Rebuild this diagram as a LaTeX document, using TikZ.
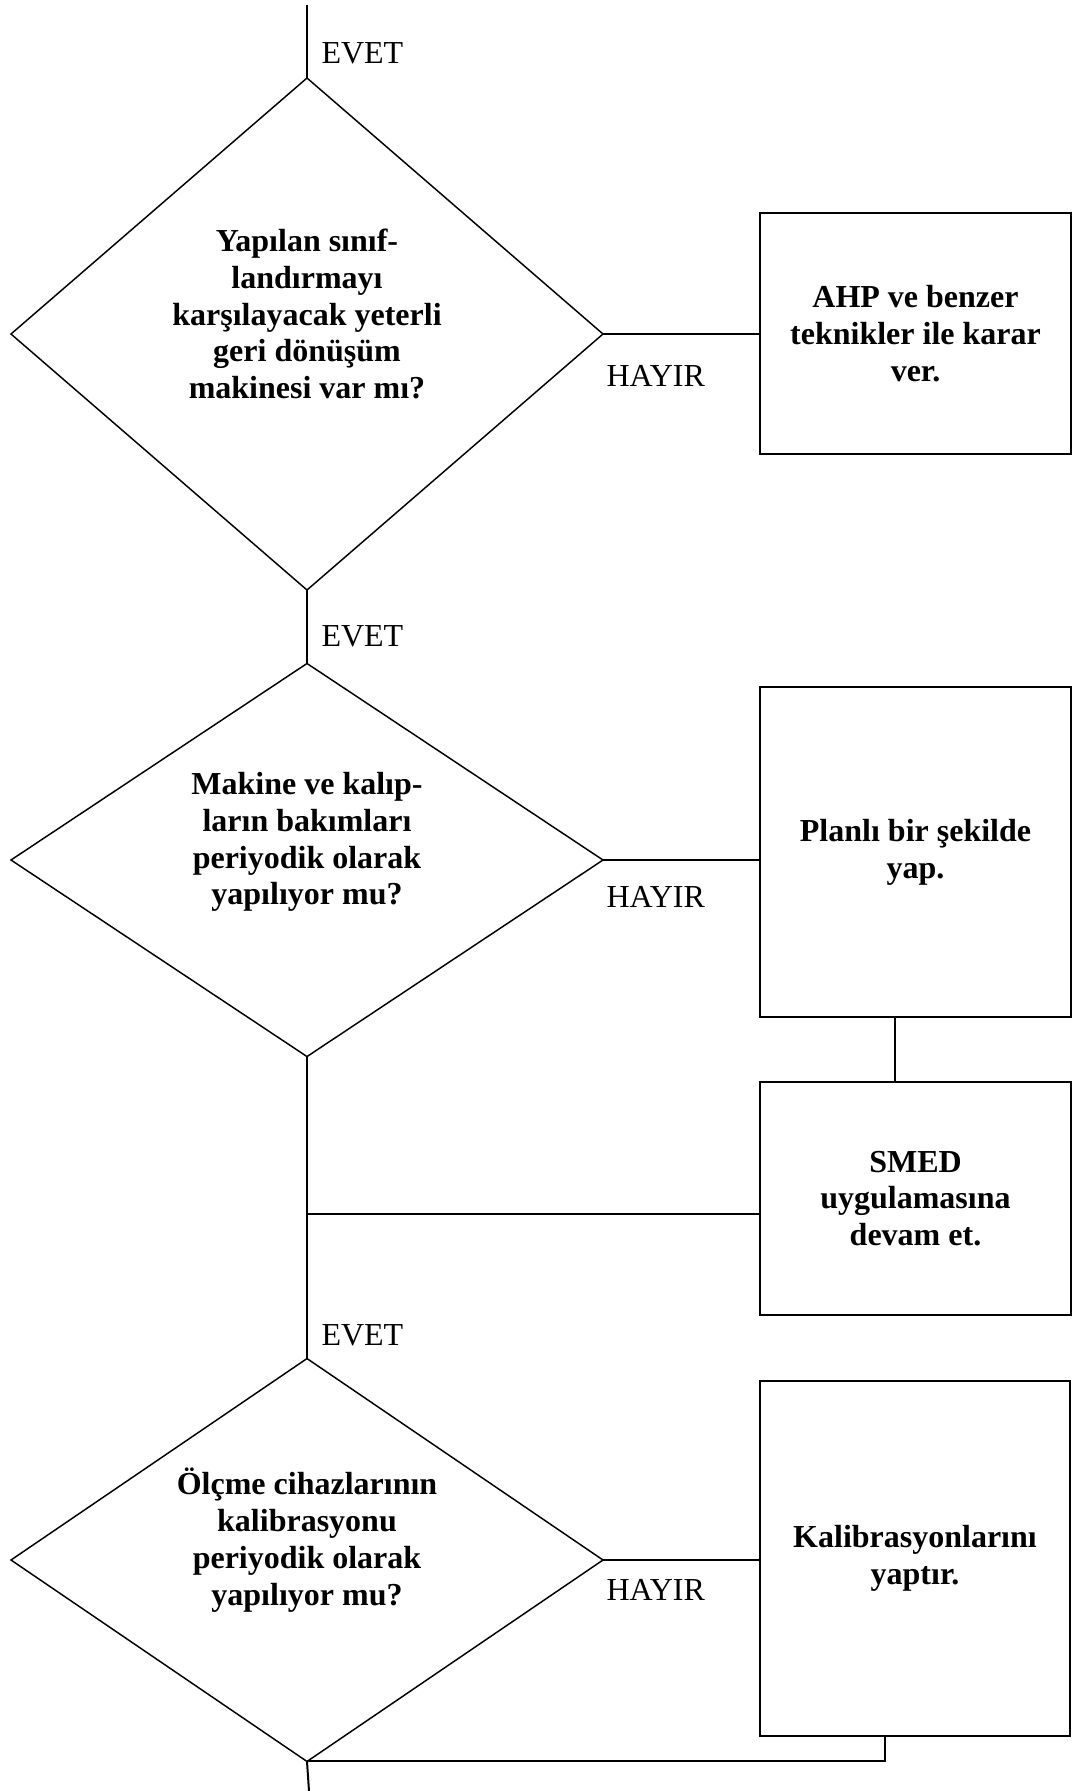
\documentclass[tikz,border=0pt]{standalone}
\usepackage{fontspec}
\setmainfont{Liberation Serif}
\usetikzlibrary{positioning}
\usetikzlibrary{calc}
\usetikzlibrary{shapes.geometric}

\begin{document}
\begin{tikzpicture}[x=0.375pt, y=-0.375pt,
    question/.style={draw, diamond, line width=0.55pt, inner sep=0pt, outer sep=0pt, minimum width=222pt},
    qtext/.style={font=\fontsize{12}{13.8}\selectfont\bfseries, align=center, inner sep=0pt},
    action/.style={draw, rectangle, line width=0.75pt, inner sep=0pt, outer sep=0pt,
      minimum width=116.6pt, font=\fontsize{12}{13.8}\selectfont\bfseries, align=center},
    answer/.style={font=\fontsize{12}{14}\selectfont, inner sep=0pt, anchor=west},
    link/.style={line width=0.75pt}]
  \useasboundingbox (0,0) rectangle (1072,1791);

  % decisions
  \node[question, minimum height=192pt] (q1) at (307,334) {};
  \node[question, minimum height=147.4pt] (q2) at (307,860) {};
  \node[question, minimum height=151.1pt] (q3) at (307,1560) {};

  \node[qtext] (q1text) at ($(q1)+(0,-20)$) {Yapılan sınıf-\\landırmayı\\karşılayacak yeterli\\geri dönüşüm\\makinesi var mı?};
  \node[qtext] (q2text) at ($(q2)+(0,-18)$) {Makine ve kalıp-\\ların bakımları\\periyodik olarak\\yapılıyor mu?};
  \node[qtext] (q3text) at ($(q3)+(0,-20)$) {Ölçme cihazlarının\\kalibrasyonu\\periyodik olarak\\yapılıyor mu?};

  % actions
  \node[action, minimum height=90.4pt] (a1) at (915.5,333.5) {AHP ve benzer\\teknikler ile karar\\ver.};
  \node[action, minimum height=123.8pt] (a2) at (915.5,852) {Planlı bir şekilde\\yap.};
  \node[action, minimum height=87.4pt] (a3) at (915.5,1198.5) {SMED\\uygulamasına\\devam et.};
  \node[action, minimum height=133.1pt] (a4) at (915,1558.5) {Kalibrasyonlarını\\yaptır.};

  % answers
  \node[answer] (yes1) at ($(q1.north)+(14,-25)$) {EVET};
  \node[answer] (yes2) at ($(q2.north)+(14,-27)$) {EVET};
  \node[answer] (yes3) at ($(q3.north)+(14,-23)$) {EVET};
  \node[answer] (no1) at ($(q1.east)+(3,42)$) {HAYIR};
  \node[answer] (no2) at ($(q2.east)+(3,37)$) {HAYIR};
  \node[answer] (no3) at ($(q3.east)+(3,30)$) {HAYIR};

  % flow lines
  \coordinate (start) at (307,5);
  \coordinate (smedjoin) at (307,1214);
  \coordinate (exit) at (309,1791);

  \draw[link] (start) -- (q1.north);
  \draw[link] (q1.east) -- (q1.east -| a1.west);
  \draw[link] (q1.south) -- (q2.north);
  \draw[link] (q2.east) -- (q2.east -| a2.west);
  \draw[link] ($(a2.south)+(-21,0)$) -- ($(a3.north)+(-21,0)$);
  \draw[link] (q2.south) -- (q3.north);
  \draw[link] (smedjoin) -- (smedjoin -| a3.west);
  \draw[link] (q3.east) -- (q3.east -| a4.west);
  \draw[link] ($(a4.south)+(-30,0)$) |- (q3.south);
  \draw[link] (q3.south) -- (exit);
\end{tikzpicture}
\end{document}
